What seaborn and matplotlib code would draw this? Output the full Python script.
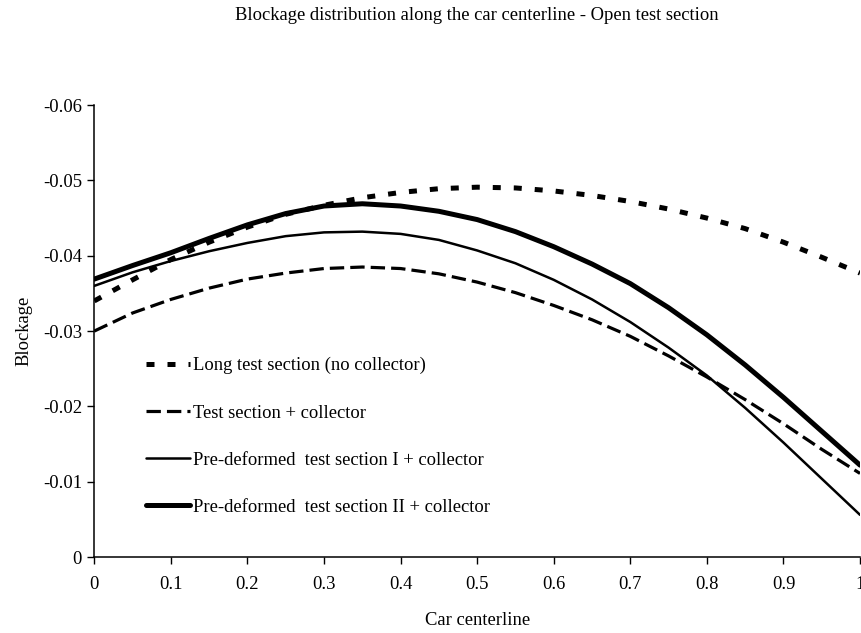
import numpy as np
import pandas as pd
import matplotlib
matplotlib.use("Agg")
import matplotlib.pyplot as plt
import seaborn as sns

x_pos = [0.0, 0.05, 0.10, 0.15, 0.20, 0.25, 0.30, 0.35, 0.40, 0.45, 0.50,
         0.55, 0.60, 0.65, 0.70, 0.75, 0.80, 0.85, 0.90, 0.95, 1.0]

long_test = [-0.0340, -0.0368, -0.0395, -0.0418, -0.0438, -0.0455, -0.0467, -0.0477,
             -0.0484, -0.0489, -0.0491, -0.0490, -0.0486, -0.0480, -0.0472, -0.0462,
             -0.0450, -0.0436, -0.0418, -0.0398, -0.0377]
test_collector = [-0.0300, -0.0324, -0.0342, -0.0357, -0.0369, -0.0377, -0.0383, -0.0385,
                  -0.0383, -0.0376, -0.0365, -0.0351, -0.0334, -0.0315, -0.0293, -0.0267,
                  -0.0239, -0.0209, -0.0177, -0.0143, -0.0111]
predef_1 = [-0.0360, -0.0378, -0.0393, -0.0406, -0.0417, -0.0426, -0.0431, -0.0432,
            -0.0429, -0.0421, -0.0407, -0.0390, -0.0368, -0.0342, -0.0312, -0.0278,
            -0.0241, -0.0198, -0.0152, -0.0104, -0.0056]
predef_2 = [-0.0369, -0.0387, -0.0404, -0.0423, -0.0441, -0.0456, -0.0466, -0.0469,
            -0.0466, -0.0459, -0.0448, -0.0432, -0.0412, -0.0389, -0.0363, -0.0331,
            -0.0295, -0.0255, -0.0212, -0.0167, -0.0122]

series_names = ["Long test section (no collector)",
                "Test section + collector",
                "Pre-deformed  test section I + collector",
                "Pre-deformed  test section II + collector"]
x_ticks = [0, 0.1, 0.2, 0.3, 0.4, 0.5, 0.6, 0.7, 0.8, 0.9, 1]
x_tick_labels = ["0", "0.1", "0.2", "0.3", "0.4", "0.5", "0.6", "0.7", "0.8", "0.9", "1"]
y_ticks = [0, -0.01, -0.02, -0.03, -0.04, -0.05, -0.06]
y_tick_labels = ["0", "-0.01", "-0.02", "-0.03", "-0.04", "-0.05", "-0.06"]

sns.set_style("ticks")
plt.rcParams["font.family"] = ["Liberation Serif", "DejaVu Serif"]
plt.rcParams["axes.unicode_minus"] = False

FS = 13.4
fig = plt.figure(figsize=(8.62, 6.33), dpi=100)
ax = fig.add_axes([0.1094, 0.120, 0.8883, 0.714])

styles = [
    dict(lw=3.6, ls=(0, (1.6, 2.6))),
    dict(lw=2.3, ls=(0, (4.5, 1.9))),
    dict(lw=1.8, ls="-"),
    dict(lw=3.6, ls="-"),
]
vals = [long_test, test_collector, predef_1, predef_2]
for name, v, st in zip(series_names, vals, styles):
    df = pd.DataFrame({"x": x_pos, "y": v})
    sns.lineplot(data=df, x="x", y="y", ax=ax, color="black", linewidth=st["lw"],
                 linestyle=st["ls"], label=name, sort=True)

ax.set_xlim(0, 1)
ax.set_ylim(0, -0.06)
ax.set_xticks(x_ticks)
ax.set_xticklabels(x_tick_labels)
ax.set_yticks(y_ticks)
ax.set_yticklabels(y_tick_labels)
ax.tick_params(axis="both", labelsize=FS, length=4.8, width=1, color="black",
               labelcolor="black", direction="out")
ax.tick_params(axis="x", pad=9)
ax.tick_params(axis="y", pad=4)
for s in ["top", "right"]:
    ax.spines[s].set_visible(False)
for s in ["left", "bottom"]:
    ax.spines[s].set_linewidth(1.1)
    ax.spines[s].set_color("black")

ax.set_xlabel("Car centerline", fontsize=FS, color="black")
ax.set_ylabel("Blockage", fontsize=FS, color="black")
ax.xaxis.set_label_coords(0.5, -0.122)
ax.yaxis.set_label_coords(-0.081, 0.5)

fig.text(0.553, 0.976, "Blockage distribution along the car centerline - Open test section",
         ha="center", va="center", fontsize=FS, color="black")

leg = ax.legend(loc="upper left", bbox_to_anchor=(0.068, 0.4425), frameon=False,
                fontsize=FS, handlelength=2.37, handletextpad=0.15, labelspacing=1.62,
                borderpad=0, borderaxespad=0)
for t in leg.get_texts():
    t.set_color("black")

fig.savefig("out.png", dpi=100, facecolor="white")
